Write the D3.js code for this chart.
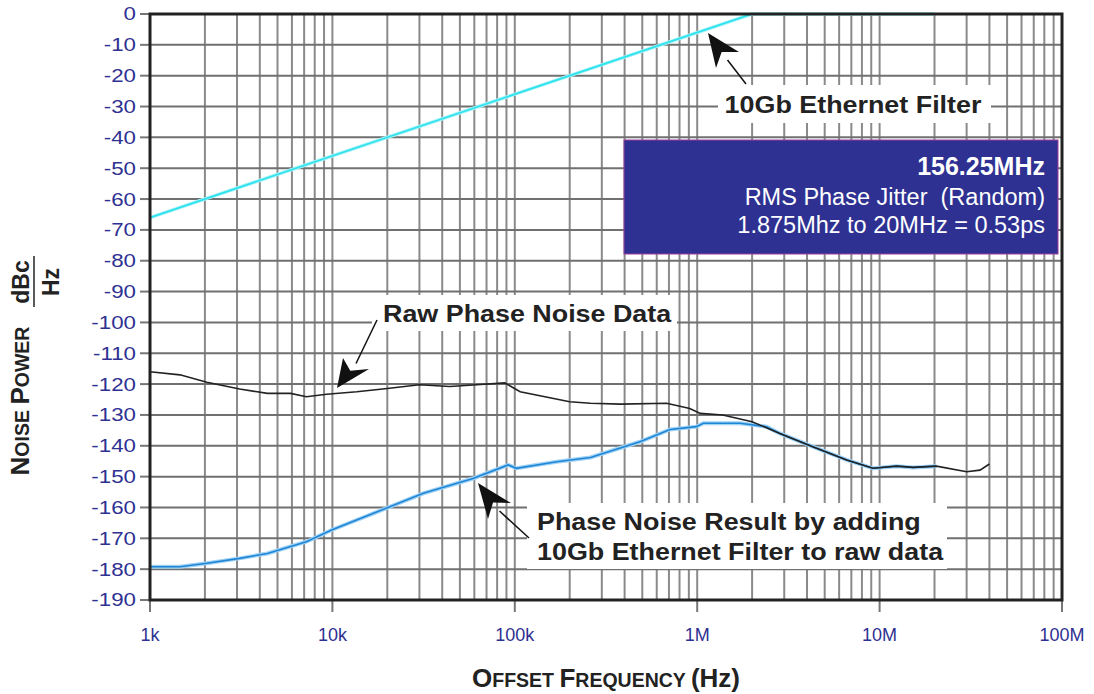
<!DOCTYPE html>
<html>
<head>
<meta charset="utf-8">
<script src="https://cdn.jsdelivr.net/npm/d3@7"></script>
<style>
  body { margin: 0; background: #fff; }
  text { font-family: "Liberation Sans", Arial, Helvetica, sans-serif; }
</style>
</head>
<body>
<div id="chart"></div>
<script>
// Frequencies (Hz) and levels (dBc/Hz)
var rawFreq = [1000, 1460, 2050, 3100, 4400, 5900, 7200, 9300, 13600, 20000, 30000, 44000, 59000, 88000, 107000,
               200000, 260000, 380000, 680000, 910000, 1040000, 1380000, 2000000, 2840000, 4300000, 6600000,
               9200000, 12400000, 15300000, 20500000, 30000000, 35500000, 40000000];
var rawDb = [-116, -117, -119.4, -121.6, -123, -123, -124.1, -123.3, -122.5, -121.4, -120.2, -120.8, -120.3, -119.6, -122.5,
             -125.7, -126.2, -126.5, -126.2, -127.9, -129.5, -130, -132.2, -136, -140.3, -144.6,
             -147.3, -146.6, -147, -146.6, -148.4, -147.9, -145.9];

var resultFreq = [1000, 1460, 2050, 3100, 4400, 7200, 9900, 16800, 31500, 59000, 92000, 102000, 170000, 260000,
                  485000, 710000, 990000, 1080000, 1720000, 2400000, 2840000, 4300000, 6600000, 9200000,
                  12400000, 15300000, 20500000];
var resultDb = [-179.2, -179.2, -178.1, -176.5, -174.9, -171.1, -167.3, -161.9, -155.4, -150.6, -146.2, -147.3, -145.2, -143.8,
                -138.7, -134.7, -133.8, -132.7, -132.7, -133.8, -136, -140.3, -144.6, -147.3,
                -146.6, -147, -146.6];

var filterFreq = [1000, 2000000, 20000000];
var filterDb = [-66, 0, 0];

var xTicks = [1e3, 1e4, 1e5, 1e6, 1e7, 1e8];
var xTickLabels = ["1k", "10k", "100k", "1M", "10M", "100M"];
var yTicks = d3.range(0, -191, -10);

var margin = {top: 14, right: 32, bottom: 94, left: 150},
    width = 1094 - margin.left - margin.right,
    height = 694 - margin.top - margin.bottom;

var svg = d3.select("#chart")
  .append("svg")
    .attr("width", 1094)
    .attr("height", 694);

var g = svg.append("g")
    .attr("transform", "translate(" + margin.left + "," + margin.top + ")");

var x = d3.scaleLog().domain([1e3, 1e8]).range([0, width]);
var y = d3.scaleLinear().domain([0, -190]).range([0, height]);

// grid lines: every 1..9 of each decade, every 10 dB
var minor = [];
for (var e = 3; e < 8; e++) {
  for (var m = 2; m <= 9; m++) minor.push(m * Math.pow(10, e));
}
g.selectAll(".vgrid")
  .data(minor.concat(xTicks))
  .enter().append("line")
    .attr("x1", function(d) { return x(d); })
    .attr("x2", function(d) { return x(d); })
    .attr("y1", 0).attr("y2", height)
    .attr("stroke", "#8a8a8a")
    .attr("stroke-width", 2);

g.selectAll(".hgrid")
  .data(yTicks)
  .enter().append("line")
    .attr("x1", 0).attr("x2", width)
    .attr("y1", function(d) { return y(d); })
    .attr("y2", function(d) { return y(d); })
    .attr("stroke", "#707070")
    .attr("stroke-width", 2);

// y axis ticks and labels
g.selectAll(".ytick")
  .data(yTicks)
  .enter().append("line")
    .attr("x1", -10).attr("x2", 0)
    .attr("y1", function(d) { return y(d); })
    .attr("y2", function(d) { return y(d); })
    .attr("stroke", "#777")
    .attr("stroke-width", 2);

g.selectAll(".ylabel")
  .data(yTicks)
  .enter().append("text")
    .attr("transform", function(d) { return "translate(-14," + y(d) + ") scale(1.24,1)"; })
    .attr("dy", "0.36em")
    .attr("text-anchor", "end")
    .attr("font-size", 18)
    .attr("fill", "#2e3192")
    .text(function(d) { return d; });

// x axis ticks and labels
g.selectAll(".xtick")
  .data(xTicks)
  .enter().append("line")
    .attr("x1", function(d) { return x(d); })
    .attr("x2", function(d) { return x(d); })
    .attr("y1", height).attr("y2", height + 12)
    .attr("stroke", "#777")
    .attr("stroke-width", 2);

g.selectAll(".xlabel")
  .data(xTicks)
  .enter().append("text")
    .attr("x", function(d) { return x(d); })
    .attr("y", height + 41)
    .attr("text-anchor", "middle")
    .attr("font-size", 18)
    .attr("fill", "#2e3192")
    .text(function(d, i) { return xTickLabels[i]; });

// data lines
var line = d3.line()
    .x(function(d) { return x(d[0]); })
    .y(function(d) { return y(d[1]); });

var filterData = d3.zip(filterFreq, filterDb);
var rawData = d3.zip(rawFreq, rawDb);
var resultData = d3.zip(resultFreq, resultDb);

g.append("path").datum(filterData)
    .attr("d", line).attr("fill", "none")
    .attr("stroke", "#a8f4f8").attr("stroke-width", 3.5);
g.append("path").datum(filterData)
    .attr("d", line).attr("fill", "none")
    .attr("stroke", "#30e2ee").attr("stroke-width", 1.8);

g.append("path").datum(resultData)
    .attr("d", line).attr("fill", "none")
    .attr("stroke", "#9fd2f4").attr("stroke-width", 4);
g.append("path").datum(resultData)
    .attr("d", line).attr("fill", "none")
    .attr("stroke", "#1f86d6").attr("stroke-width", 1.6);

g.append("path").datum(rawData)
    .attr("d", line).attr("fill", "none")
    .attr("stroke", "#222").attr("stroke-width", 1.6);

// frame
g.append("rect")
    .attr("width", width).attr("height", height)
    .attr("fill", "none")
    .attr("stroke", "#222")
    .attr("stroke-width", 3);

// annotation boxes
function labelBox(x0, y0, w, h) {
  svg.append("rect")
    .attr("x", x0).attr("y", y0).attr("width", w).attr("height", h)
    .attr("fill", "#fff");
}
function arrow(x1, y1, tip, w1, w2) {
  svg.append("line")
    .attr("x1", x1).attr("y1", y1)
    .attr("x2", (w1[0] + w2[0]) / 2).attr("y2", (w1[1] + w2[1]) / 2)
    .attr("stroke", "#111").attr("stroke-width", 1.5);
  var mid = [(w1[0] + w2[0]) / 2 * 0.7 + tip[0] * 0.3, (w1[1] + w2[1]) / 2 * 0.7 + tip[1] * 0.3];
  svg.append("path")
    .attr("d", "M" + tip + "L" + w1 + "L" + mid + "L" + w2 + "Z")
    .attr("fill", "#111");
}
function note(x0, y0, t, anchor) {
  svg.append("text")
    .attr("transform", "translate(" + x0 + "," + y0 + ") scale(1.12,1)")
    .attr("text-anchor", anchor || "start")
    .attr("font-size", 24).attr("font-weight", "bold").attr("fill", "#222")
    .text(t);
}

labelBox(718, 85, 273, 38);
note(853, 113, "10Gb Ethernet Filter", "middle");
arrow(746, 84, [708, 33], [716, 68], [739, 52]);

labelBox(372, 295, 305, 36);
note(383, 322, "Raw Phase Noise Data");
arrow(377, 320, [337, 388], [343, 358], [369, 369]);

labelBox(527, 503, 420, 66);
note(537, 530, "Phase Noise Result by adding");
note(537, 560, "10Gb Ethernet Filter to raw data");
arrow(529, 538, [478, 483], [488, 519], [511, 503]);

// info box
svg.append("rect")
    .attr("x", 624).attr("y", 140).attr("width", 434).attr("height", 114)
    .attr("fill", "#2e3192")
    .attr("stroke", "#9b3f9b").attr("stroke-width", 1);
var infoLines = [
  {t: "156.25MHz", y: 175, size: 25, weight: "bold"},
  {t: "RMS Phase Jitter  (Random)", y: 205, size: 23.5, weight: "normal"},
  {t: "1.875Mhz to 20MHz = 0.53ps", y: 233, size: 23.5, weight: "normal"}
];
svg.selectAll(".info")
  .data(infoLines)
  .enter().append("text")
    .attr("x", 1045)
    .attr("y", function(d) { return d.y; })
    .attr("text-anchor", "end")
    .attr("font-size", function(d) { return d.size; })
    .attr("font-weight", function(d) { return d.weight; })
    .attr("fill", "#fff")
    .attr("xml:space", "preserve")
    .style("white-space", "pre")
    .text(function(d) { return d.t; });

// axis titles
var xt = svg.append("text")
    .attr("x", 606).attr("y", 687)
    .attr("text-anchor", "middle")
    .attr("font-weight", "bold").attr("fill", "#222");
xt.append("tspan").attr("font-size", 26).text("O");
xt.append("tspan").attr("font-size", 19.5).text("FFSET ");
xt.append("tspan").attr("font-size", 26).text("F");
xt.append("tspan").attr("font-size", 19.5).text("REQUENCY ");
xt.append("tspan").attr("font-size", 26).text("(Hz)");

var yt = svg.append("text")
    .attr("transform", "translate(29,401) rotate(-90)")
    .attr("text-anchor", "middle")
    .attr("font-weight", "bold").attr("fill", "#222");
yt.append("tspan").attr("font-size", 26).text("N");
yt.append("tspan").attr("font-size", 19.5).text("OISE ");
yt.append("tspan").attr("font-size", 26).text("P");
yt.append("tspan").attr("font-size", 19.5).text("OWER");

svg.append("text")
    .attr("transform", "translate(29,282) rotate(-90)")
    .attr("text-anchor", "middle")
    .attr("font-size", 23).attr("font-weight", "bold").attr("fill", "#222")
    .text("dBc");
svg.append("line")
    .attr("x1", 34).attr("x2", 34)
    .attr("y1", 256).attr("y2", 307)
    .attr("stroke", "#222").attr("stroke-width", 1.5);
svg.append("text")
    .attr("transform", "translate(59,282) rotate(-90)")
    .attr("text-anchor", "middle")
    .attr("font-size", 23).attr("font-weight", "bold").attr("fill", "#222")
    .text("Hz");
</script>
</body>
</html>
